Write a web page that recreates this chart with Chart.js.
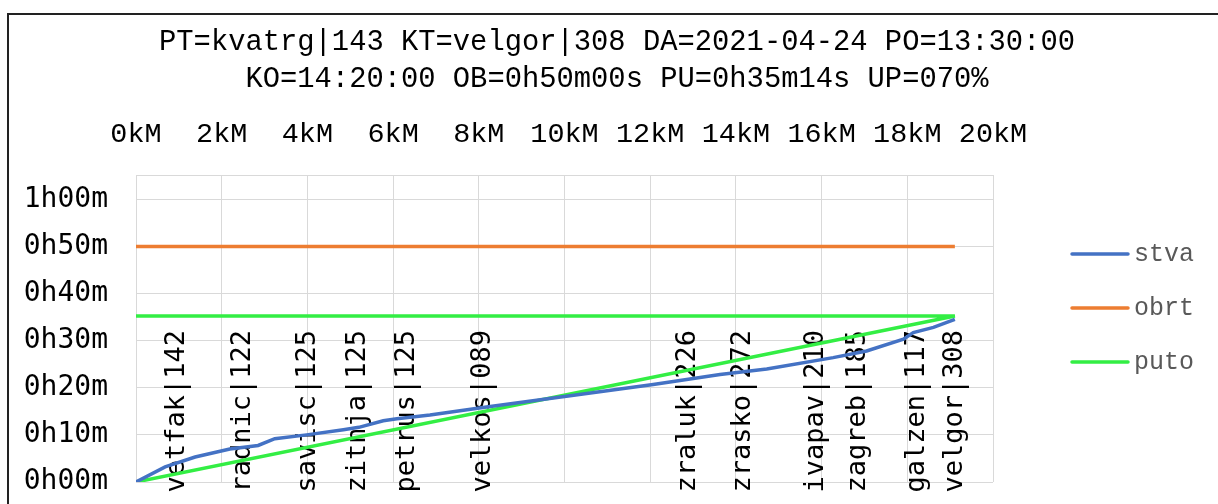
<!DOCTYPE html>
<html>
<head>
<meta charset="utf-8">
<script src="https://cdn.jsdelivr.net/npm/chart.js@4/dist/chart.umd.min.js"></script>
<style>
  html, body { margin: 0; padding: 0; background: #fff; }
</style>
</head>
<body>
<canvas id="c" width="1218" height="504"></canvas>
<script>
// naslov
const titleLines = [
  'PT=kvatrg|143 KT=velgor|308 DA=2021-04-24 PO=13:30:00',
  'KO=14:20:00 OB=0h50m00s PU=0h35m14s UP=070%'
];

// stanice (km od polaska)
const stations = ['vetfak', 'radnic', 'savisc', 'zitnja', 'petrus', 'velkos',
  'zraluk', 'zrasko', 'ivapav', 'zagreb', 'galzen', 'velgor'];
const stationCodes = ['142', '122', '125', '125', '125', '089',
  '226', '272', '210', '185', '117', '308'];
const stationKm = [0.96, 2.50, 4.01, 5.18, 6.32, 8.10,
  12.88, 14.17, 15.87, 16.85, 18.23, 19.11];
const stationLabelMin = 15;

// stvarno vrijeme voznje (km, minute)
const stvaKm = [0, 0.68, 1.38, 2.19, 2.85, 3.24, 3.98, 4.84, 5.20, 5.77, 6.09, 6.86,
  8.18, 10.13, 12.07, 13.63, 14.72, 16.27, 17.05, 17.91, 18.14, 18.61, 19.11];
const stvaMin = [0, 3.2, 5.3, 7.0, 7.75, 9.2, 10.0, 11.1, 11.6, 13.0, 13.4, 14.2,
  15.9, 18.3, 20.7, 22.8, 24.0, 26.4, 27.8, 30.3, 31.7, 32.8, 34.5];

// obrt i puto
const obrtKm = [0, 19.11];
const obrtMin = [50, 50];
const putoKm = [0, 19.11, 0];
const putoMin = [35.23, 35.23, 0];

// osi
const kmMax = 20, kmStep = 2;
const minMax = 65, minStep = 10;

const toPts = (xs, ys) => xs.map((x, i) => ({ x: x, y: ys[i] }));

const fmtMin = v => {
  if (v % minStep !== 0) return '';
  return Math.floor(v / 60) + 'h' + String(v % 60).padStart(2, '0') + 'm';
};

const extras = {
  id: 'extras',
  beforeDraw(chart) {
    const ctx = chart.ctx;
    ctx.save();
    ctx.fillStyle = '#fff';
    ctx.fillRect(0, 0, chart.width, chart.height);
    ctx.strokeStyle = '#222';
    ctx.lineWidth = 2;
    ctx.strokeRect(8, 14, chart.width + 50, chart.height + 50);
    ctx.restore();
  },
  beforeDatasetsDraw(chart) {
    const ctx = chart.ctx;
    const xs = chart.scales.x, ys = chart.scales.y;
    ctx.save();
    ctx.font = '27px "DejaVu Sans Mono"';
    ctx.fillStyle = '#000';
    ctx.textAlign = 'center';
    ctx.textBaseline = 'middle';
    stations.forEach((s, i) => {
      ctx.save();
      ctx.translate(xs.getPixelForValue(stationKm[i]), ys.getPixelForValue(stationLabelMin));
      ctx.rotate(-Math.PI / 2);
      ctx.fillText(s + '|' + stationCodes[i], 0, 0);
      ctx.restore();
    });
    ctx.restore();
  },
  afterDraw(chart) {
    // legenda desno
    const ctx = chart.ctx;
    ctx.save();
    ctx.font = '25px "Liberation Mono"';
    ctx.textBaseline = 'middle';
    chart.data.datasets.forEach((ds, i) => {
      const y = 254 + i * 54;
      ctx.strokeStyle = ds.borderColor;
      ctx.lineWidth = 3.5;
      ctx.lineCap = 'round';
      ctx.beginPath();
      ctx.moveTo(1072, y);
      ctx.lineTo(1128, y);
      ctx.stroke();
      ctx.fillStyle = '#595959';
      ctx.fillText(ds.label, 1134, y);
    });
    ctx.restore();
  }
};

new Chart(document.getElementById('c'), {
  type: 'scatter',
  data: {
    datasets: [
      {
        label: 'stva',
        data: toPts(stvaKm, stvaMin),
        borderColor: '#4472C4'
      },
      {
        label: 'obrt',
        data: toPts(obrtKm, obrtMin),
        borderColor: '#ED7D31'
      },
      {
        label: 'puto',
        data: toPts(putoKm, putoMin),
        borderColor: '#33EE44'
      }
    ]
  },
  options: {
    responsive: false,
    animation: false,
    devicePixelRatio: 1,
    showLine: true,
    elements: {
      point: { radius: 0, hoverRadius: 0 },
      line: { borderWidth: 3.5, tension: 0 }
    },
    layout: { padding: { top: 14, left: 16, right: 0, bottom: 22 } },
    plugins: {
      legend: { display: false },
      tooltip: { enabled: false },
      title: {
        display: true,
        text: titleLines,
        color: '#000',
        font: { family: 'Liberation Mono', size: 28.8, weight: 'normal', lineHeight: 1.28 },
        padding: { top: 10, bottom: 0 }
      }
    },
    scales: {
      x: {
        type: 'linear',
        position: 'top',
        min: 0,
        max: kmMax,
        afterFit: s => { s.height = 78; },
        ticks: {
          stepSize: kmStep,
          padding: 24,
          color: '#000',
          font: { family: 'Liberation Mono', size: 28.5 },
          callback: v => v + 'kM'
        },
        grid: { color: '#d9d9d9', drawTicks: false },
        border: { color: '#d9d9d9' }
      },
      y: {
        type: 'linear',
        min: 0,
        max: minMax,
        afterFit: s => { s.width = 120; s.paddingTop = 0; s.paddingBottom = 0; },
        ticks: {
          stepSize: minStep,
          autoSkip: false,
          includeBounds: false,
          padding: 28,
          color: '#000',
          font: { family: 'DejaVu Sans Mono', size: 28 },
          callback: fmtMin
        },
        grid: { color: '#d9d9d9', drawTicks: false },
        border: { color: '#d9d9d9' }
      },
      yr: {
        type: 'linear',
        position: 'right',
        afterFit: s => { s.width = 225; s.paddingTop = 0; s.paddingBottom = 0; },
        ticks: { display: false },
        grid: { display: false },
        border: { display: false }
      }
    }
  },
  plugins: [extras]
});
</script>
</body>
</html>
